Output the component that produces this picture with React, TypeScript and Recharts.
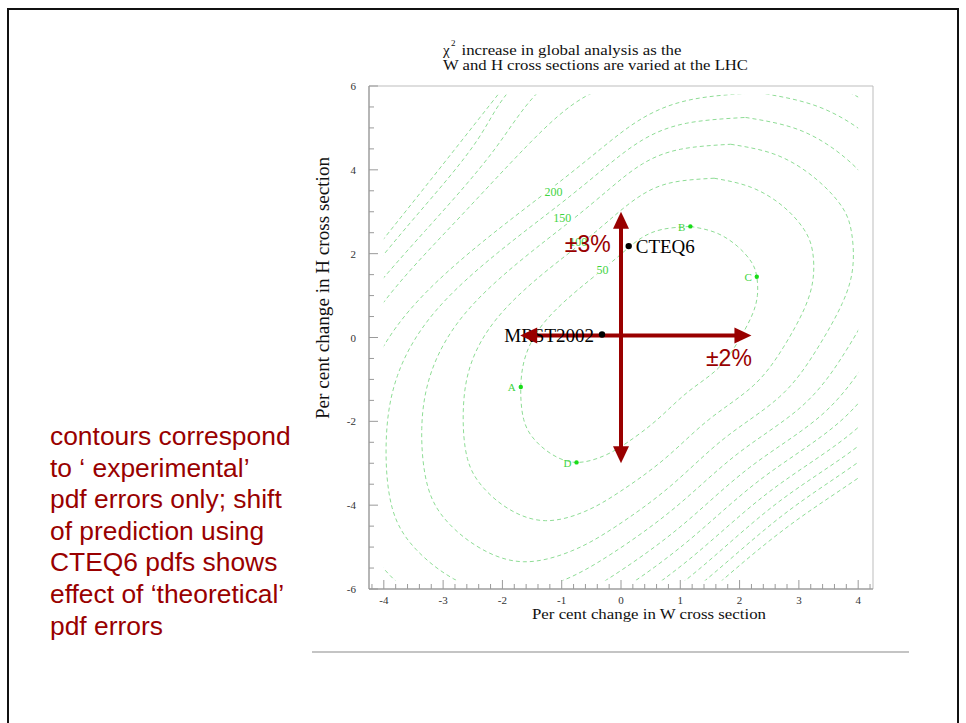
import React from 'react';
import { ComposedChart, Line, Scatter, XAxis, YAxis, ReferenceArea } from 'recharts';

type Pt = { x: number; y: number };
const pts = (a: number[][]): Pt[] => a.map(([x, y]) => ({ x, y }));

// ---------------- data ----------------
const xMajorTicks = [-4, -3, -2, -1, 0, 1, 2, 3, 4];
const xMinorTicks = [-4.2, -3.8, -3.6, -3.4, -3.2, -2.8, -2.6, -2.4, -2.2, -1.8, -1.6, -1.4, -1.2, -0.8, -0.6, -0.4, -0.2,
  0.2, 0.4, 0.6, 0.8, 1.2, 1.4, 1.6, 1.8, 2.2, 2.4, 2.6, 2.8, 3.2, 3.4, 3.6, 3.8, 4.2];
const yMajorTicks = [-6, -4, -2, 0, 2, 4, 6];
const yMinorTicks = [-5.5, -5, -4.5, -3.5, -3, -2.5, -1.5, -1, -0.5, 0.5, 1, 1.5, 2.5, 3, 3.5, 4.5, 5, 5.5];

const contour1 = pts([[1.17,2.65],[1.6,2.5],[1.96,2.18],[2.2,1.8],[2.29,1.45],[2.3,1.0],[2.2,0.5],[1.96,-0.13],[1.62,-0.76],[1.11,-1.32],[0.61,-1.96],[0.10,-2.51],[-0.3,-2.83],[-0.75,-2.98],[-1.15,-2.8],[-1.45,-2.45],[-1.64,-1.96],[-1.69,-1.18],[-1.6,-0.4],[-1.3,0.35],[-0.8,1.05],[-0.31,1.62],[0.05,2.05],[0.35,2.38],[0.7,2.58],[1.17,2.65]]);
const contour2 = pts([[1.57,3.80],[2.20,3.58],[2.74,3.12],[3.09,2.57],[3.23,2.06],[3.24,1.41],[3.09,0.68],[2.74,-0.23],[2.23,-1.15],[1.48,-1.96],[0.74,-2.89],[-0.02,-3.68],[-0.61,-4.15],[-1.27,-4.37],[-1.87,-4.11],[-2.31,-3.60],[-2.59,-2.89],[-2.66,-1.76],[-2.53,-0.63],[-2.09,0.46],[-1.35,1.48],[-0.62,2.30],[-0.09,2.93],[0.36,3.41],[0.87,3.70],[1.57,3.80]]);
const contour3 = pts([[1.85,4.61],[2.63,4.35],[3.29,3.78],[3.73,3.11],[3.89,2.49],[3.91,1.69],[3.73,0.81],[3.29,-0.31],[2.67,-1.42],[1.74,-2.41],[0.83,-3.55],[-0.10,-4.52],[-0.83,-5.09],[-1.64,-5.35],[-2.37,-5.03],[-2.92,-4.41],[-3.26,-3.55],[-3.36,-2.17],[-3.19,-0.79],[-2.65,0.54],[-1.74,1.78],[-0.84,2.79],[-0.19,3.55],[0.36,4.14],[1.00,4.49],[1.85,4.61]]);
const contour4 = pts([[2.10,5.25],[3.01,4.95],[3.77,4.30],[4.28,3.53],[4.47,2.83],[4.50,1.92],[4.28,0.91],[3.77,-0.37],[3.05,-1.64],[1.97,-2.77],[0.91,-4.06],[-0.17,-5.17],[-1.02,-5.82],[-1.97,-6.12],[-2.82,-5.76],[-3.46,-5.05],[-3.86,-4.06],[-3.96,-2.49],[-3.77,-0.91],[-3.14,0.61],[-2.08,2.02],[-1.04,3.17],[-0.28,4.04],[0.36,4.71],[1.10,5.11],[2.10,5.25]]);
const contour5 = pts([[2.32,5.84],[3.34,5.50],[4.20,4.78],[4.77,3.93],[4.98,3.14],[5.01,2.13],[4.77,1.00],[4.20,-0.42],[3.39,-1.84],[2.17,-3.10],[0.98,-4.54],[-0.23,-5.77],[-1.18,-6.49],[-2.25,-6.83],[-3.21,-6.43],[-3.92,-5.64],[-4.37,-4.54],[-4.49,-2.78],[-4.28,-1.03],[-3.56,0.66],[-2.37,2.24],[-1.21,3.52],[-0.35,4.49],[0.36,5.23],[1.20,5.68],[2.32,5.84]]);
const contour6 = pts([[2.51,6.5],[3.64,5.98],[4.58,5.20],[5.21,4.27],[5.45,3.41],[5.48,2.31],[5.21,1.08],[4.58,-0.46],[3.69,-2.01],[2.36,-3.38],[1.05,-4.95],[-0.29,-6.30],[-1.34,-7.08],[-2.52,-7.45],[-3.56,-7.01],[-4.35,-6.15],[-4.85,-4.95],[-4.98,-3.04],[-4.74,-1.13],[-4.05,0.75],[-2.8,2.75],[-1.6,4.55],[-0.6,5.75],[0.37,6.2],[1.28,6.45],[2.51,6.5]]);
const contour7 = pts([[2.70,7.0],[3.92,6.44],[4.94,5.59],[5.62,4.59],[5.88,3.66],[5.91,2.48],[5.62,1.16],[4.94,-0.51],[3.98,-2.17],[2.53,-3.65],[1.11,-5.34],[-0.34,-6.79],[-1.48,-7.64],[-2.76,-8.03],[-3.89,-7.56],[-4.74,-6.63],[-5.28,-5.34],[-5.43,-3.28],[-5.17,-1.22],[-4.5,0.55],[-3.3,2.55],[-2.1,4.55],[-1.1,6.2],[0.37,6.9],[1.36,7.0],[2.70,7.0]]);
const contour8 = pts([[2.86,7.3],[4.17,6.87],[5.27,5.97],[5.99,4.89],[6.27,3.91],[6.30,2.64],[5.99,1.23],[5.27,-0.55],[4.23,-2.33],[2.68,-3.90],[1.16,-5.71],[-0.39,-7.26],[-1.61,-8.16],[-2.97,-8.59],[-4.19,-8.08],[-5.10,-7.09],[-5.68,-5.71],[-5.83,-3.51],[-5.56,-1.31],[-4.85,0.45],[-3.6,2.66],[-2.4,4.76],[-1.5,6.33],[0.37,7.2],[1.43,7.3],[2.86,7.3]]);
const contour9TopLeft = pts([[-5.5,-0.3],[-4.4,1.65],[-3.3,3.6],[-2.2,5.57],[-1.4,7.0]]);
const contour9BottomRight = pts([[6.35,1.29],[5.57,-0.59],[4.47,-2.46],[2.83,-4.13],[1.21,-6.04],[-0.44,-7.68]]);
const contour10BottomRight = pts([[5.86,-0.62],[4.71,-2.59],[2.97,-4.35],[1.26,-6.35]]);

const contours = [contour1, contour2, contour3, contour4, contour5, contour6, contour7, contour8,
  contour9TopLeft, contour9BottomRight, contour10BottomRight];

const contourLabels = [
  { x: -1.14, y: 3.48, text: '200' },
  { x: -0.99, y: 2.84, text: '150' },
  { x: -0.72, y: 2.27, text: '100' },
  { x: -0.31, y: 1.62, text: '50' },
];

const fitPoints = [
  { x: -1.69, y: -1.18, name: 'A' },
  { x: 1.17, y: 2.65, name: 'B' },
  { x: 2.29, y: 1.45, name: 'C' },
  { x: -0.75, y: -2.98, name: 'D' },
];

const pdfSets = [
  { x: -0.32, y: 0.07, name: 'MRST2002' },
  { x: 0.13, y: 2.18, name: 'CTEQ6' },
];

const arrowH = [{ x: -1.7, y: 0.05 }, { x: 2.2, y: 0.05 }];
const arrowV = [{ x: 0, y: -3 }, { x: 0, y: 3 }];

const spreadLabels = [
  { x: -0.56, y: 2.05, text: '±3%' },
  { x: 1.82, y: -0.67, text: '±2%' },
];

const noteLines = [
  'contours correspond',
  'to \u2018 experimental\u2019',
  'pdf errors only; shift',
  'of prediction using',
  'CTEQ6 pdfs shows',
  'effect of \u2018theoretical\u2019',
  'pdf errors',
];

const titleLine1 = 'increase in global analysis as the';
const titleLine2 = 'W and H cross sections are varied at the LHC';
const xAxisTitle = 'Per cent change in W cross section';
const yAxisTitle = 'Per cent change in H cross section';

// ---------------- layout / style ----------------
const W = 966;
const H = 723;
const FRAME = { left: 369, top: 86, right: 873, bottom: 589 };
const X_DOMAIN: [number, number] = [-4.25, 4.25];
const Y_DOMAIN: [number, number] = [-6, 6];
const GRID_X: [number, number] = [-4, 4];
const GRID_Y: [number, number] = [-5.8, 5.8];
const PX_PER_X = (FRAME.right - FRAME.left) / (X_DOMAIN[1] - X_DOMAIN[0]);
const PX_PER_Y = (FRAME.bottom - FRAME.top) / (Y_DOMAIN[1] - Y_DOMAIN[0]);
const Y_AXIS_W = 60;
const X_AXIS_H = 40;

const SERIF = "'Liberation Serif', 'Times New Roman', serif";
const SANS = "'Liberation Sans', Arial, sans-serif";
const RED = '#990000';
const CONTOUR = '#8edc95';
const GREEN_TEXT = '#3fd43f';
const GREEN_DOT = '#19dc19';
const HEAD_LEN = 17;
const HEAD_HALF = 8;
const LABEL_SIDE: Record<string, 'left' | 'right'> = { MRST2002: 'left', CTEQ6: 'right' };

const xTicks = [...xMajorTicks, ...xMinorTicks].sort((a, b) => a - b);
const yTicks = [...yMajorTicks, ...yMinorTicks].sort((a, b) => a - b);

const shaftV = [
  { x: arrowV[0].x, y: arrowV[0].y + (HEAD_LEN - 3) / PX_PER_Y },
  { x: arrowV[1].x, y: arrowV[1].y - (HEAD_LEN - 3) / PX_PER_Y },
];
const shaftH = [
  { x: arrowH[0].x + (HEAD_LEN - 3) / PX_PER_X, y: arrowH[0].y },
  { x: arrowH[1].x - (HEAD_LEN - 3) / PX_PER_X, y: arrowH[1].y },
];
const heads = [
  { ...arrowV[0], dir: 'down' },
  { ...arrowV[1], dir: 'up' },
  { ...arrowH[0], dir: 'left' },
  { ...arrowH[1], dir: 'right' },
];

const XTick = (props: any) => {
  const { x, y, payload } = props;
  const v = payload.value;
  const major = xMajorTicks.includes(v);
  return (
    <g>
      <line x1={x} x2={x} y1={y} y2={y - (major ? 9 : 5)} stroke="#9a9a9a" strokeWidth={1} />
      {major && (
        <text x={x} y={y + 15} textAnchor="middle" fontSize={11} fontFamily={SERIF} fill="#333">{String(v)}</text>
      )}
    </g>
  );
};

const YTick = (props: any) => {
  const { x, y, payload } = props;
  const v = payload.value;
  const major = yMajorTicks.includes(v);
  return (
    <g>
      <line x1={x} x2={x + (major ? 9 : 5)} y1={y} y2={y} stroke="#9a9a9a" strokeWidth={1} />
      {major && (
        <text x={x - 13} y={y + 4} textAnchor="end" fontSize={11} fontFamily={SERIF} fill="#333">{String(v)}</text>
      )}
    </g>
  );
};

const ContourLabel = (props: any) => {
  const { cx, cy, payload } = props;
  const w = payload.text.length * 6.6 + 2;
  return (
    <g>
      <rect x={cx - w / 2} y={cy - 6} width={w} height={11} fill="#fff" />
      <text x={cx} y={cy + 4} textAnchor="middle" fontSize={12} fontFamily={SERIF} fill={GREEN_TEXT}>{payload.text}</text>
    </g>
  );
};

const FitPoint = (props: any) => {
  const { cx, cy, payload } = props;
  return (
    <g>
      <circle cx={cx} cy={cy} r={2.2} fill={GREEN_DOT} />
      <text x={cx - 5} y={cy + 4.5} textAnchor="end" fontSize={11} fontFamily={SERIF} fill={GREEN_TEXT}>{payload.name}</text>
    </g>
  );
};

const PdfPoint = (props: any) => {
  const { cx, cy, payload } = props;
  const left = LABEL_SIDE[payload.name] === 'left';
  return (
    <g>
      <circle cx={cx} cy={cy} r={3.2} fill="#000" />
      <text x={left ? cx - 8 : cx + 7} y={cy + 7} textAnchor={left ? 'end' : 'start'} fontSize={19} fontFamily={SERIF} fill="#000">{payload.name}</text>
    </g>
  );
};

const SpreadLabel = (props: any) => {
  const { cx, cy, payload } = props;
  return (
    <text x={cx} y={cy} textAnchor="middle" fontSize={23} fontFamily={SANS} fill={RED}>{payload.text}</text>
  );
};

const ArrowHead = (props: any) => {
  const { cx, cy, payload } = props;
  const L = HEAD_LEN;
  const h = HEAD_HALF;
  let p = '';
  if (payload.dir === 'up') p = `${cx},${cy} ${cx - h},${cy + L} ${cx + h},${cy + L}`;
  else if (payload.dir === 'down') p = `${cx},${cy} ${cx - h},${cy - L} ${cx + h},${cy - L}`;
  else if (payload.dir === 'left') p = `${cx},${cy} ${cx + L},${cy - h} ${cx + L},${cy + h}`;
  else p = `${cx},${cy} ${cx - L},${cy - h} ${cx - L},${cy + h}`;
  return <polygon points={p} fill={RED} />;
};

export default function App() {
  const gridLeft = FRAME.left + (GRID_X[0] - X_DOMAIN[0]) * PX_PER_X;
  const gridRight = FRAME.left + (GRID_X[1] - X_DOMAIN[0]) * PX_PER_X;
  const gridTop = FRAME.top + (Y_DOMAIN[1] - GRID_Y[1]) * PX_PER_Y;
  const gridBottom = FRAME.top + (Y_DOMAIN[1] - GRID_Y[0]) * PX_PER_Y;

  return (
    <div style={{ position: 'absolute', left: 0, top: 0, width: W, height: H, overflow: 'hidden', background: '#fff' }}>
      {/* slide border */}
      <div style={{ position: 'absolute', left: 7, top: 8, width: 952, height: 760, border: '2px solid #111', boxSizing: 'border-box' }} />
      {/* slide rule */}
      <div style={{ position: 'absolute', left: 312, top: 651, width: 597, height: 2, background: '#c4c4c4' }} />
      {/* note */}
      <div style={{ position: 'absolute', left: 50, top: 421, fontFamily: SANS, fontSize: 26.4, lineHeight: '31.6px', color: RED, whiteSpace: 'nowrap' }}>
        {noteLines.map((l, i) => <div key={i}>{l}</div>)}
      </div>

      {/* contour layer, clipped to the contour grid */}
      <div style={{ position: 'absolute', left: 0, top: 0 }}>
        <ComposedChart width={W} height={H}
          margin={{ left: gridLeft, right: W - gridRight, top: gridTop, bottom: H - gridBottom }}>
          <XAxis type="number" dataKey="x" domain={GRID_X} allowDataOverflow hide />
          <YAxis type="number" dataKey="y" domain={GRID_Y} allowDataOverflow hide width={0} />
          {contours.map((c, i) => (
            <Line key={i} data={c} dataKey="y" type="natural" stroke={CONTOUR} strokeWidth={1}
              strokeDasharray="4 3" dot={false} activeDot={false} isAnimationActive={false} />
          ))}
        </ComposedChart>
      </div>

      {/* axes, points, annotations */}
      <div style={{ position: 'absolute', left: 0, top: 0 }}>
        <ComposedChart width={W} height={H}
          margin={{ left: FRAME.left - Y_AXIS_W, right: W - FRAME.right, top: FRAME.top, bottom: H - FRAME.bottom - X_AXIS_H }}>
          <XAxis type="number" dataKey="x" domain={X_DOMAIN} allowDataOverflow ticks={xTicks} interval={0}
            height={X_AXIS_H} tickSize={0} tickMargin={0} tickLine={false} axisLine={{ stroke: '#8e8e8e' }} tick={<XTick />} />
          <YAxis type="number" dataKey="y" domain={Y_DOMAIN} allowDataOverflow ticks={yTicks} interval={0}
            width={Y_AXIS_W} tickSize={0} tickMargin={0} tickLine={false} axisLine={{ stroke: '#8e8e8e' }} tick={<YTick />} />
          <ReferenceArea x1={X_DOMAIN[0]} x2={X_DOMAIN[1]} y1={Y_DOMAIN[0]} y2={Y_DOMAIN[1]} fill="none" fillOpacity={0} stroke="#bdbdbd" strokeWidth={1} />
          <Scatter data={contourLabels} shape={ContourLabel} isAnimationActive={false} />
          <Scatter data={fitPoints} shape={FitPoint} isAnimationActive={false} />
          <Scatter data={pdfSets} shape={PdfPoint} isAnimationActive={false} />
          <Scatter data={spreadLabels} shape={SpreadLabel} isAnimationActive={false} />
          <Line data={shaftV} dataKey="y" type="linear" stroke={RED} strokeWidth={4} dot={false} activeDot={false} isAnimationActive={false} />
          <Line data={shaftH} dataKey="y" type="linear" stroke={RED} strokeWidth={4} dot={false} activeDot={false} isAnimationActive={false} />
          <Scatter data={heads} shape={ArrowHead} isAnimationActive={false} />
        </ComposedChart>
      </div>

      {/* titles */}
      <svg width={W} height={H} style={{ position: 'absolute', left: 0, top: 0, pointerEvents: 'none' }}>
        <text x={443} y={55} fontFamily={SERIF} fontSize={15} fill="#111">χ</text>
        <text x={451} y={46} fontFamily={SERIF} fontSize={9} fill="#111">2</text>
        <text x={461.5} y={54.5} fontFamily={SERIF} fontSize={14} fill="#111" textLength={220} lengthAdjust="spacingAndGlyphs">{titleLine1}</text>
        <text x={443} y={70} fontFamily={SERIF} fontSize={14} fill="#111" textLength={305} lengthAdjust="spacingAndGlyphs">{titleLine2}</text>
        <text x={532} y={619} fontFamily={SERIF} fontSize={14} fill="#111" textLength={234} lengthAdjust="spacingAndGlyphs">{xAxisTitle}</text>
        <text x={329} y={288} transform="rotate(-90, 329, 288)" textAnchor="middle" fontFamily={SERIF} fontSize={19} fill="#111" textLength={262} lengthAdjust="spacingAndGlyphs">{yAxisTitle}</text>
      </svg>
    </div>
  );
}
